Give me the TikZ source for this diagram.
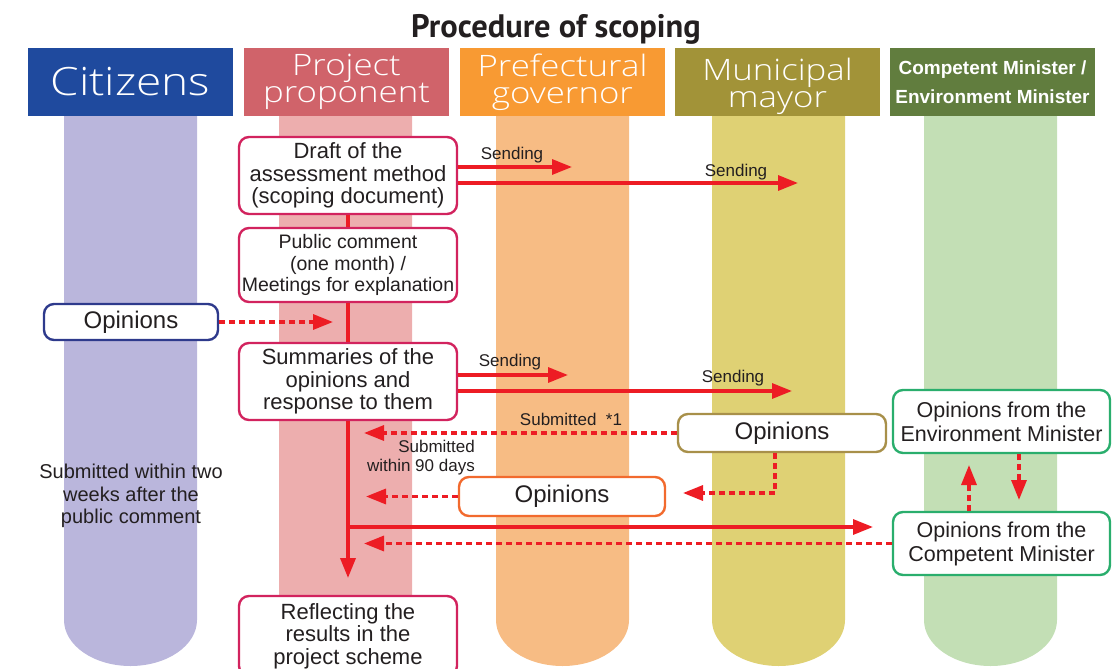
\documentclass[tikz,border=0pt]{standalone}
\usepackage{fontspec}
\usetikzlibrary{arrows.meta}
\setmainfont{Liberation Sans}
\newfontfamily\titlefont{PT Sans}
\IfFontExistsTF{Open Sans Light}{\newfontfamily\hdrfont{Open Sans Light}[FakeStretch=1.18]}{\newfontfamily\hdrfont{DejaVu Sans}}

\definecolor{citH}{RGB}{31,74,158}
\definecolor{citC}{RGB}{186,182,220}
\definecolor{proH}{RGB}{208,99,106}
\definecolor{proC}{RGB}{237,174,174}
\definecolor{preH}{RGB}{248,154,51}
\definecolor{preC}{RGB}{247,188,132}
\definecolor{munH}{RGB}{162,147,56}
\definecolor{munC}{RGB}{223,209,116}
\definecolor{minH}{RGB}{97,125,62}
\definecolor{minC}{RGB}{195,223,181}
\definecolor{arrowred}{RGB}{237,28,36}
\definecolor{proB}{RGB}{210,35,94}
\definecolor{citB}{RGB}{46,58,140}
\definecolor{munB}{RGB}{168,144,74}
\definecolor{preB}{RGB}{242,106,46}
\definecolor{minB}{RGB}{42,174,109}
\definecolor{inkc}{RGB}{35,31,32}

\tikzset{
  hdr/.style={fill=#1, minimum width=205pt, minimum height=68pt, inner sep=0pt,
    text=white, align=center},
  hdrtwo/.style={font=\hdrfont\fontsize{29.5}{27}\selectfont},
  card/.style={draw=#1, line width=2.4pt, fill=white, rounded corners=10pt,
    inner sep=0pt, align=center, text=inkc, font=\fontsize{22}{22.5}\selectfont},
  flow/.style={draw=arrowred, line width=3.2pt, -{Triangle[length=20pt,width=15pt]}},
  trunk/.style={draw=arrowred, line width=3.5pt},
  reply/.style={flow, dash pattern=on 6pt off 4pt},
  tag/.style={font=\fontsize{17}{19}\selectfont, text=inkc, inner sep=0pt, align=center},
}

\begin{document}
\begin{tikzpicture}[x=1pt,y=-1pt]
\useasboundingbox (0,0) rectangle (1112,669);
\clip (0,0) rectangle (1112,669);

% lanes with rounded lower ends
\foreach \lx/\col in {64/citC,279/proC,496/preC,712/munC,924/minC}{
  \fill[\col] (\lx,116) -- (\lx,620)
    arc[start angle=180,end angle=360,x radius=66.5pt,y radius=46pt]
    -- (\lx+133,116) -- cycle;
}

% title
\node[font=\titlefont\bfseries\fontsize{32.5}{32.5}\selectfont, text=inkc] (title) at (556,29) {Procedure of scoping};

% lane headers
\node[hdr=citH, font=\hdrfont\fontsize{39}{39}\selectfont] (hcit) at (130.5,82) {Citizens};
\node[hdr=proH, hdrtwo] (hpro) at (346.5,82) {Project\\proponent};
\node[hdr=preH, hdrtwo] (hpre) at (562.5,82) {Prefectural\\governor};
\node[hdr=munH] (hmun) at (777.5,82) {};
\node[hdrtwo, text=white, align=center, inner sep=0pt] (tmun) at (777.5,86) {Municipal\\mayor};
\node[hdr=minH, font=\bfseries\fontsize{19}{29}\selectfont] (hmin) at (992.5,82) {Competent Minister /\\Environment Minister};

% boxes
\node[card=proB, minimum width=218pt, minimum height=77pt] (draft) at (348,175.5)
  {Draft of the\\assessment method\\(scoping document)};
\node[card=proB, minimum width=218pt, minimum height=74pt, font=\fontsize{19.5}{21.5}\selectfont] (pubc) at (348,265)
  {Public comment\\(one month) /\\Meetings for explanation};
\node[card=citB, minimum width=174pt, minimum height=36pt, font=\fontsize{24}{24}\selectfont] (copin) at (131,322) {Opinions};
\node[card=proB, minimum width=218pt, minimum height=77pt] (summ) at (348,381.5)
  {Summaries of the\\opinions and\\response to them};
\node[card=munB, minimum width=208pt, minimum height=38pt, font=\fontsize{24}{24}\selectfont] (mopin) at (782,433) {Opinions};
\node[card=preB, minimum width=206pt, minimum height=39pt, font=\fontsize{24}{24}\selectfont] (popin) at (562,496.5) {Opinions};
\node[card=minB, minimum width=217pt, minimum height=63pt, font=\fontsize{21.5}{24}\selectfont] (envop) at (1001.5,421.5)
  {Opinions from the\\Environment Minister};
\node[card=minB, minimum width=217pt, minimum height=63pt, font=\fontsize{21.5}{24}\selectfont] (comop) at (1001.5,543.5)
  {Opinions from the\\Competent Minister};
\node[card=proB, minimum width=218pt, minimum height=80pt] (refl) at (348,636)
  {Reflecting the\\results in the\\project scheme};

% free ends of connectors
\coordinate (s1) at (572,167);
\coordinate (s2) at (798,183);
\coordinate (s3) at (568,375);
\coordinate (s4) at (792,391);
\coordinate (c1) at (333,322);
\coordinate (m1) at (364,433);
\coordinate (p1) at (366,496.5);
\coordinate (mbend) at (775,493);
\coordinate (mtip) at (683,493);
\coordinate (branch) at (348,527);
\coordinate (btip) at (873,527);
\coordinate (k1) at (364,543.5);
\coordinate (upx) at (969,465);
\coordinate (dnx) at (1019,500);
\coordinate (trunkend) at (348,578);

% trunk of the procedure
\draw[trunk] (draft.south) -- (pubc.north);
\draw[trunk] (pubc.south) -- (summ.north);
\draw[flow, line width=3.5pt] (summ.south) -- (trunkend);

% sending
\draw[flow] (draft.east |- s1) -- (s1);
\draw[flow] (draft.east |- s2) -- (s2);
\draw[flow] (summ.east |- s3) -- (s3);
\draw[flow] (summ.east |- s4) -- (s4);
\draw[flow] (branch) -- (btip);

% opinions returned
\draw[reply] (copin.east) -- (c1);
\draw[reply] (mopin.west) -- (m1);
\draw[reply] (popin.west) -- (p1);
\draw[reply] (mopin.south -| mbend) -- (mbend) -- (mtip);
\draw[reply] (comop.west) -- (k1);
\draw[reply] (comop.north -| upx) -- (upx);
\draw[reply] (envop.south -| dnx) -- (dnx);

% labels
\node[tag] (l1) at (512,155) {Sending};
\node[tag] (l2) at (736,172) {Sending};
\node[tag] (l3) at (510,362) {Sending};
\node[tag] (l4) at (733,378) {Sending};
\node[tag] (l5) at (571,419) {Submitted~~*1};
\node[tag, anchor=east, align=right] (l6) at (475,457.5) {Submitted\\within 90 days};
\node[tag, font=\fontsize{20}{22.5}\selectfont] (l7) at (131,496) {Submitted within two\\weeks after the\\public comment};
\end{tikzpicture}
\end{document}
